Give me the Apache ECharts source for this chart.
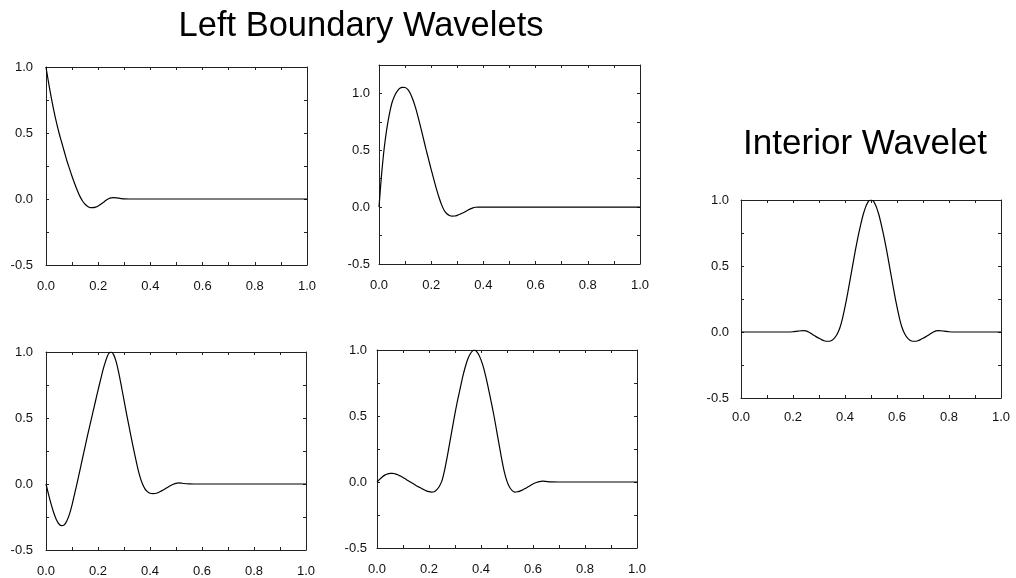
<!DOCTYPE html>
<html>
<head>
<meta charset="utf-8">
<script src="https://cdn.jsdelivr.net/npm/echarts@6/dist/echarts.min.js"></script>
<style>
html,body{margin:0;padding:0;background:#fff;}
#chart{width:1016px;height:578px;}
</style>
</head>
<body>
<div id="chart"></div>
<script>
// ---- Data ----
const titles = ["Left Boundary Wavelets", "Interior Wavelet"];
const xTickLabels = ["0.0", "0.2", "0.4", "0.6", "0.8", "1.0"];
const yTickLabels = ["-0.5", "0.0", "0.5", "1.0"];

// Left boundary wavelet 1 (top-left)
const x1 = [0.00,0.01,0.02,0.03,0.04,0.05,0.06,0.07,0.08,0.09,0.10,0.11,0.12,0.13,0.14,0.15,0.16,0.17,0.18,0.19,0.20,0.21,0.22,0.23,0.24,0.25,0.26,0.27,0.28,0.29,0.30,0.32,1.00];
const y1 = [1.00,0.88,0.77,0.67,0.58,0.50,0.43,0.36,0.29,0.23,0.17,0.115,0.065,0.02,-0.015,-0.04,-0.057,-0.065,-0.066,-0.062,-0.053,-0.04,-0.025,-0.01,0.002,0.008,0.01,0.009,0.006,0.003,0.001,0,0];

// Left boundary wavelet 2 (top-middle)
const x2 = [0.00,0.005,0.01,0.02,0.03,0.04,0.05,0.06,0.07,0.08,0.09,0.10,0.11,0.12,0.13,0.14,0.15,0.16,0.17,0.18,0.19,0.20,0.21,0.22,0.23,0.24,0.25,0.26,0.27,0.28,0.29,0.30,0.31,0.32,0.33,0.34,0.35,0.36,0.37,0.38,0.40,1.00];
const y2 = [0,0.15,0.29,0.52,0.69,0.82,0.92,0.98,1.02,1.045,1.053,1.052,1.035,1.0,0.945,0.875,0.79,0.70,0.605,0.51,0.42,0.33,0.245,0.16,0.085,0.02,-0.03,-0.058,-0.073,-0.079,-0.078,-0.072,-0.063,-0.052,-0.04,-0.027,-0.015,-0.006,-0.001,0.001,0,0];

// Left boundary wavelet 3 (bottom-left)
const x3 = [0.00,0.01,0.02,0.03,0.04,0.05,0.06,0.07,0.08,0.09,0.10,0.11,0.12,0.13,0.14,0.15,0.16,0.17,0.18,0.19,0.20,0.21,0.22,0.23,0.24,0.25,0.26,0.27,0.28,0.29,0.30,0.31,0.32,0.33,0.34,0.35,0.36,0.37,0.38,0.39,0.40,0.41,0.42,0.43,0.44,0.45,0.46,0.47,0.48,0.49,0.50,0.51,0.52,0.53,0.55,0.57,1.00];
const y3 = [0,-0.08,-0.155,-0.22,-0.27,-0.303,-0.316,-0.31,-0.28,-0.23,-0.16,-0.075,0.01,0.1,0.19,0.28,0.37,0.455,0.54,0.625,0.71,0.79,0.87,0.935,0.985,1.0,0.98,0.925,0.84,0.74,0.635,0.53,0.43,0.33,0.235,0.145,0.065,0.005,-0.035,-0.058,-0.07,-0.073,-0.072,-0.066,-0.057,-0.046,-0.034,-0.022,-0.011,-0.002,0.005,0.008,0.007,0.004,0.001,0,0];

// Left boundary wavelet 4 (bottom-middle)
const x4 = [0.00,0.01,0.02,0.03,0.04,0.05,0.06,0.07,0.08,0.09,0.10,0.11,0.12,0.13,0.14,0.15,0.16,0.17,0.18,0.19,0.20,0.21,0.22,0.23,0.24,0.25,0.26,0.27,0.28,0.29,0.30,0.31,0.32,0.33,0.34,0.35,0.36,0.37,0.375,0.38,0.39,0.40,0.41,0.42,0.43,0.44,0.45,0.46,0.47,0.48,0.49,0.50,0.51,0.52,0.53,0.54,0.55,0.56,0.57,0.58,0.59,0.60,0.61,0.62,0.63,0.64,0.65,0.67,0.70,1.00];
const y4 = [0,0.02,0.038,0.052,0.061,0.066,0.066,0.062,0.055,0.045,0.034,0.022,0.01,-0.002,-0.014,-0.026,-0.037,-0.048,-0.058,-0.067,-0.073,-0.076,-0.074,-0.058,-0.032,0.01,0.09,0.19,0.30,0.41,0.52,0.62,0.71,0.80,0.875,0.935,0.975,0.997,1.0,0.995,0.97,0.925,0.865,0.785,0.695,0.60,0.50,0.39,0.28,0.17,0.075,0.005,-0.04,-0.065,-0.076,-0.074,-0.069,-0.06,-0.05,-0.038,-0.026,-0.015,-0.006,0.001,0.005,0.006,0.004,0.001,0,0];

// Interior wavelet (right)
const x5 = [0.00,0.18,0.20,0.22,0.24,0.25,0.26,0.27,0.28,0.29,0.30,0.31,0.32,0.33,0.34,0.35,0.36,0.37,0.38,0.39,0.40,0.41,0.42,0.43,0.44,0.45,0.46,0.47,0.48,0.49,0.50,0.51,0.52,0.53,0.54,0.55,0.56,0.57,0.58,0.59,0.60,0.61,0.62,0.63,0.64,0.65,0.66,0.67,0.68,0.69,0.70,0.71,0.72,0.73,0.74,0.75,0.76,0.78,0.80,0.82,1.00];
const y5 = [0,0,0.002,0.007,0.01,0.008,0.0,-0.012,-0.025,-0.037,-0.048,-0.058,-0.066,-0.07,-0.07,-0.062,-0.045,-0.015,0.03,0.10,0.19,0.29,0.40,0.51,0.62,0.72,0.81,0.89,0.95,0.99,1.0,0.99,0.95,0.89,0.81,0.72,0.62,0.51,0.40,0.29,0.19,0.10,0.03,-0.015,-0.045,-0.062,-0.07,-0.07,-0.066,-0.058,-0.048,-0.037,-0.025,-0.012,0.0,0.008,0.01,0.007,0.002,0,0];

// ---- Layout ----
const panels = [
  {xs:x1, ys:y1, left:46,  top:67,  width:261, height:198, ymax:1.0,  ylm:13, xlm:15},
  {xs:x2, ys:y2, left:379, top:65,  width:261, height:199, ymax:1.25, ylm:9,  xlm:15},
  {xs:x3, ys:y3, left:46,  top:352, width:260, height:198, ymax:1.0,  ylm:13, xlm:15},
  {xs:x4, ys:y4, left:377, top:350, width:260, height:198, ymax:1.0,  ylm:10, xlm:15},
  {xs:x5, ys:y5, left:741, top:200, width:260, height:198, ymax:1.0,  ylm:12, xlm:13}
];

const FONT = "'Liberation Sans', Arial, Helvetica, sans-serif";
const axisColor = '#222';
const grid = [], xAxis = [], yAxis = [], series = [];

function xFmt(v){
  const k = Math.round(v*10);
  if (k % 2 !== 0) return '';
  return xTickLabels[k/2] !== undefined ? xTickLabels[k/2] : '';
}
function yFmt(v){
  const k = Math.round(v*4);
  if (k % 2 !== 0) return '';
  const idx = k/2 + 1;
  return yTickLabels[idx] !== undefined ? yTickLabels[idx] : '';
}

panels.forEach((p, i) => {
  grid.push({left:p.left, top:p.top, width:p.width, height:p.height, containLabel:false});
  const baseX = {
    type:'value', gridIndex:i, min:0, max:1, interval:0.1,
    axisLine:{show:true, onZero:false, lineStyle:{color:axisColor, width:1}},
    axisTick:{show:true, inside:true, length:3, lineStyle:{color:axisColor}},
    splitLine:{show:false}
  };
  const baseY = {
    type:'value', gridIndex:i, min:-0.5, max:p.ymax, interval:0.25,
    axisLine:{show:true, onZero:false, lineStyle:{color:axisColor, width:1}},
    axisTick:{show:true, inside:true, length:3, lineStyle:{color:axisColor}},
    splitLine:{show:false}
  };
  xAxis.push(Object.assign({}, baseX, {position:'bottom',
    axisLabel:{show:true, margin:p.xlm, fontSize:13, color:'#111', fontFamily:FONT, formatter:xFmt, showMinLabel:true, showMaxLabel:true, hideOverlap:false}}));
  xAxis.push(Object.assign({}, baseX, {position:'top', axisLabel:{show:false}}));
  yAxis.push(Object.assign({}, baseY, {position:'left',
    axisLabel:{show:true, margin:p.ylm, fontSize:13, color:'#111', fontFamily:FONT, formatter:yFmt, showMinLabel:true, showMaxLabel:true, hideOverlap:false}}));
  yAxis.push(Object.assign({}, baseY, {position:'right', axisLabel:{show:false}}));
  series.push({
    type:'line', xAxisIndex:2*i, yAxisIndex:2*i,
    data:p.xs.map((x, j) => [x, p.ys[j]]),
    showSymbol:false, smooth:0.3, animation:false,
    lineStyle:{color:'#000', width:1.2}
  });
});

const chart = echarts.init(document.getElementById('chart'), null, {renderer:'canvas'});
chart.setOption({
  backgroundColor:'#fff',
  animation:false,
  title:[
    {text:titles[0], left:361, top:9, padding:0, textAlign:'center',
     textStyle:{fontSize:34.5, fontWeight:'normal', color:'#000', fontFamily:FONT}},
    {text:titles[1], left:865, top:127, padding:0, textAlign:'center',
     textStyle:{fontSize:35, fontWeight:'normal', color:'#000', fontFamily:FONT}}
  ],
  grid: grid, xAxis: xAxis, yAxis: yAxis, series: series
});
</script>
</body>
</html>
